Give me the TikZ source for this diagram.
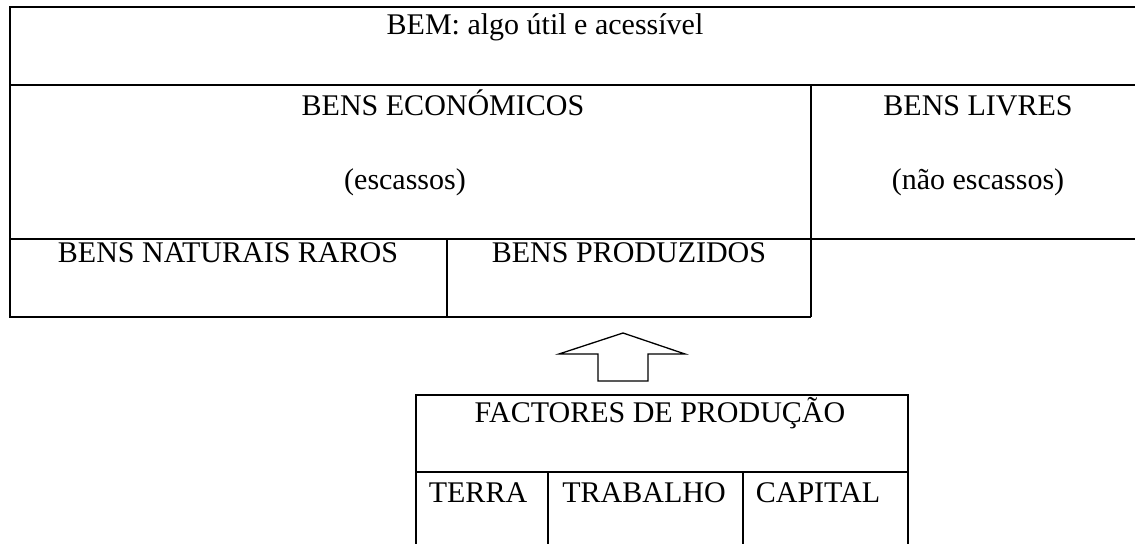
\documentclass[tikz,border=0pt]{standalone}
\usepackage{fontspec}
\setmainfont{Liberation Serif}
\usepackage{tikz}
\usetikzlibrary{calc,positioning}
\tikzstyle{rule}  = [line width=1pt]
\tikzstyle{label} = [inner sep=0pt, anchor=base, font=\fontsize{15}{18}\selectfont]
\tikzstyle{block} = [line width=0.65pt, line join=miter]

\begin{document}
\begin{tikzpicture}[x=0.5pt, y=-0.5pt]
        \useasboundingbox (0,0) rectangle (1135,544);
        % top table
        \coordinate (tl) at (10,7);
        \coordinate (tr) at (1135,7);
        \coordinate (ml) at (10,85);
        \coordinate (mr) at (1135,85);
        \coordinate (nl) at (10,239);
        \coordinate (nr) at (1135,239);
        \coordinate (bl) at (10,317);
        \coordinate (bm) at (811,317);
        \draw[rule] (tr) -- (tl) -- (bl) -- (bm);
        \draw[rule] (ml) -- (mr);
        \draw[rule] (nl) -- (nr);
        \draw[rule] (811,85) -- (bm);
        \draw[rule] (447,239) -- (447,317);

        \node[label] (bem)   at (545,35)  {BEM: algo útil e acessível};
        \node[label] (econ)  at (443,116) {BENS ECONÓMICOS};
        \node[label] (esc)   at (405,190) {(escassos)};
        \node[label] (livre) at (978,116) {BENS LIVRES};
        \node[label] (nesc)  at (978,190) {(não escassos)};
        \node[label] (nat)   at (228,263) {BENS NATURAIS RAROS};
        \node[label] (prod)  at (629,263) {BENS PRODUZIDOS};

        % block arrow
        \draw[block] (598,381) -- (598,354) -- (559,354) -- (623,333)
            -- (685,354) -- (648,354) -- (648,381) -- cycle;

        % factores table
        \draw[rule] (416,544) -- (416,395) -- (908,395) -- (908,544);
        \draw[rule] (416,472) -- (908,472);
        \draw[rule] (548,472) -- (548,544);
        \draw[rule] (743,472) -- (743,544);

        \node[label] (fact)  at (660,423) {FACTORES DE PRODUÇÃO};
        \node[label] (terra) at (478,503) {TERRA};
        \node[label] (trab)  at (644,503) {TRABALHO};
        \node[label] (cap)   at (818,503) {CAPITAL};
    \end{tikzpicture}
\end{document}
